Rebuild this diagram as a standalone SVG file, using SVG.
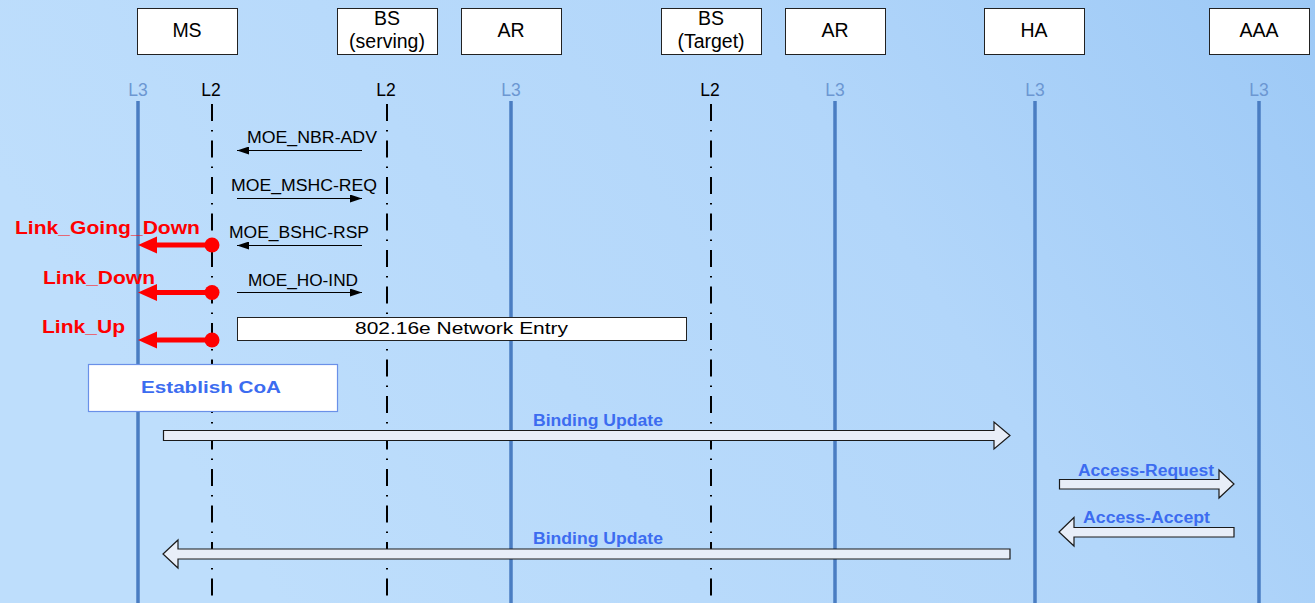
<svg xmlns="http://www.w3.org/2000/svg" width="1315" height="603" viewBox="0 0 1315 603">
<defs>
<linearGradient id="bg" x1="0" y1="0.3" x2="1" y2="0">
<stop offset="0" stop-color="#BEDEFC"/>
<stop offset="0.6" stop-color="#B2D6FA"/>
<stop offset="1" stop-color="#9DC9F6"/>
</linearGradient>
<marker id="ah" viewBox="0 0 12 8" refX="12" refY="4" markerWidth="12" markerHeight="8" markerUnits="userSpaceOnUse" orient="auto">
<path d="M0,0 L12,4 L0,8 Z" fill="#000"/>
</marker>
</defs>
<style>
.box{fill:#fff;stroke:#222;stroke-width:1}
.nt{font-family:"Liberation Sans",Arial,sans-serif;font-size:19.5px;fill:#000;text-anchor:middle}
.l3{stroke:#4A7DC2;stroke-width:3.5}
.l2{stroke:#000;stroke-width:2;stroke-dasharray:17 9 1.5 9}
.l3t{font-family:"Liberation Sans",Arial,sans-serif;font-size:17.5px;fill:#6C97D2;text-anchor:middle}
.l2t{font-family:"Liberation Sans",Arial,sans-serif;font-size:17.5px;fill:#000;text-anchor:middle}
.msg{stroke:#000;stroke-width:1;fill:none;marker-end:url(#ah)}
.mt{font-family:"Liberation Sans",Arial,sans-serif;font-size:16px;fill:#000}
.red{font-family:"Liberation Sans",Arial,sans-serif;font-size:18px;font-weight:bold;fill:#FF0000}
.blu{font-family:"Liberation Sans",Arial,sans-serif;font-size:16px;font-weight:bold;fill:#3C6CF0}
.blk{fill:#E8EEF8;stroke:#1A1A1A;stroke-width:1.2;stroke-linejoin:miter}
</style>
<rect x="0" y="0" width="1315" height="603" fill="url(#bg)"/>

<g id="lifelines">
<line class="l3" x1="138" y1="101" x2="138" y2="603"/>
<line class="l2" x1="212" y1="104" x2="212" y2="603"/>
<line class="l2" x1="387" y1="104" x2="387" y2="603"/>
<line class="l3" x1="511" y1="101" x2="511" y2="603"/>
<line class="l2" x1="711" y1="104" x2="711" y2="603"/>
<line class="l3" x1="835" y1="101" x2="835" y2="603"/>
<line class="l3" x1="1035" y1="101" x2="1035" y2="603"/>
<line class="l3" x1="1259" y1="101" x2="1259" y2="603"/>
<text class="l3t" x="138" y="96">L3</text>
<text class="l2t" x="211" y="96">L2</text>
<text class="l2t" x="386" y="96">L2</text>
<text class="l3t" x="511" y="96">L3</text>
<text class="l2t" x="710" y="96">L2</text>
<text class="l3t" x="835" y="96">L3</text>
<text class="l3t" x="1035" y="96">L3</text>
<text class="l3t" x="1259" y="96">L3</text>
</g>

<g id="node-ms">
<rect class="box" x="137.5" y="8.5" width="100" height="46"/>
<text class="nt" x="187" y="37">MS</text>
</g>
<g id="node-bs-serving">
<rect class="box" x="337.5" y="8.5" width="100" height="46"/>
<text class="nt" x="387" y="25">BS</text>
<text class="nt" x="387" y="48">(serving)</text>
</g>
<g id="node-ar1">
<rect class="box" x="461.5" y="8.5" width="100" height="46"/>
<text class="nt" x="511" y="37">AR</text>
</g>
<g id="node-bs-target">
<rect class="box" x="661.5" y="8.5" width="100" height="46"/>
<text class="nt" x="711" y="25">BS</text>
<text class="nt" x="711" y="48">(Target)</text>
</g>
<g id="node-ar2">
<rect class="box" x="785.5" y="8.5" width="100" height="46"/>
<text class="nt" x="835" y="37">AR</text>
</g>
<g id="node-ha">
<rect class="box" x="984.5" y="8.5" width="100" height="46"/>
<text class="nt" x="1034" y="37">HA</text>
</g>
<g id="node-aaa">
<rect class="box" x="1209.5" y="8.5" width="100" height="46"/>
<text class="nt" x="1259" y="37">AAA</text>
</g>

<g id="node-network-entry">
<rect class="box" x="237.5" y="317.5" width="449" height="23"/>
<text class="mt" x="355" y="334" font-size="18" textLength="213" lengthAdjust="spacingAndGlyphs">802.16e Network Entry</text>
</g>

<g id="node-establish-coa">
<rect x="88.5" y="364.5" width="249" height="47" fill="#fff" stroke="#6A90E8" stroke-width="1.2"/>
<text class="blu" x="141" y="393" font-size="19" textLength="140" lengthAdjust="spacingAndGlyphs">Establish CoA</text>
</g>

<g id="connectors">
<line class="msg" x1="362" y1="150.5" x2="237" y2="150.5"/>
<text class="mt" x="247" y="143" textLength="130" lengthAdjust="spacingAndGlyphs">MOE_NBR-ADV</text>
<line class="msg" x1="237" y1="198.5" x2="362" y2="198.5"/>
<text class="mt" x="231" y="191" textLength="146" lengthAdjust="spacingAndGlyphs">MOE_MSHC-REQ</text>
<line class="msg" x1="362" y1="245.5" x2="237" y2="245.5"/>
<text class="mt" x="229" y="238" textLength="140" lengthAdjust="spacingAndGlyphs">MOE_BSHC-RSP</text>
<line class="msg" x1="237" y1="292.5" x2="362" y2="292.5"/>
<text class="mt" x="248" y="286" textLength="110" lengthAdjust="spacingAndGlyphs">MOE_HO-IND</text>

<g fill="#FF0000">
<rect x="155" y="242.5" width="57" height="5"/>
<path d="M138,245 L157,236.5 L157,253.5 Z"/>
<circle cx="212" cy="245" r="7.5"/>
<rect x="155" y="290" width="57" height="5"/>
<path d="M138,292.5 L157,284 L157,301 Z"/>
<circle cx="212" cy="292.5" r="7.5"/>
<rect x="155" y="337.5" width="57" height="5"/>
<path d="M138,340 L157,331.5 L157,348.5 Z"/>
<circle cx="212" cy="340" r="7.5"/>
</g>
<text class="red" x="15" y="234" textLength="185" lengthAdjust="spacingAndGlyphs">Link_Going_Down</text>
<text class="red" x="43" y="284" textLength="112" lengthAdjust="spacingAndGlyphs">Link_Down</text>
<text class="red" x="42" y="333" textLength="83" lengthAdjust="spacingAndGlyphs">Link_Up</text>

<path class="blk" d="M163.5,430.5 L994,430.5 L994,422 L1010,435.5 L994,449 L994,440.5 L163.5,440.5 Z"/>
<text class="blu" x="533" y="426" textLength="130" lengthAdjust="spacingAndGlyphs">Binding Update</text>

<path class="blk" d="M1059.5,479.5 L1219,479.5 L1219,470 L1234,484 L1219,498 L1219,489 L1059.5,489 Z"/>
<text class="blu" x="1078" y="476" textLength="136" lengthAdjust="spacingAndGlyphs">Access-Request</text>

<path class="blk" d="M1234,527.5 L1074,527.5 L1074,517.5 L1059,532 L1074,546 L1074,537 L1234,537 Z"/>
<text class="blu" x="1083" y="523" textLength="127" lengthAdjust="spacingAndGlyphs">Access-Accept</text>

<path class="blk" d="M1010,549 L178,549 L178,540 L163,554 L178,568 L178,559 L1010,559 Z"/>
<text class="blu" x="533" y="544" textLength="130" lengthAdjust="spacingAndGlyphs">Binding Update</text>
</g>
</svg>
